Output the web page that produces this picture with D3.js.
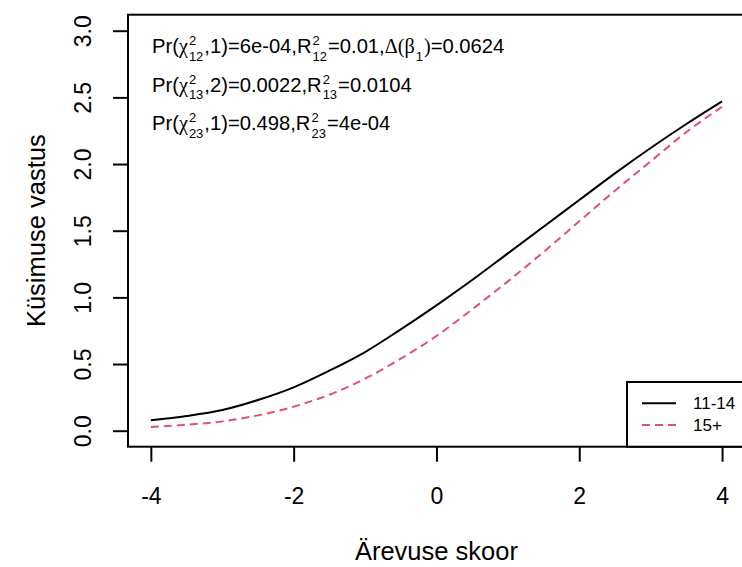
<!DOCTYPE html>
<html>
<head>
<meta charset="utf-8">
<script src="https://cdn.jsdelivr.net/npm/d3@7"></script>
<style>
  html, body { margin: 0; padding: 0; background: #ffffff; }
  svg { display: block; font-family: "Liberation Sans", Arial, Helvetica, sans-serif; }
</style>
</head>
<body>
<svg id="chart" width="742" height="567"></svg>
<script>
// ---- data ----
const xValues = [-4, -3.5, -3, -2.5, -2, -1.5, -1, -0.5, 0, 0.5, 1, 1.5, 2, 2.5, 3, 3.5, 4];
const group1Values = [0.078, 0.11, 0.155, 0.23, 0.325, 0.45, 0.59, 0.76, 0.94, 1.13, 1.33, 1.53, 1.73, 1.93, 2.12, 2.30, 2.47];
const group2Values = [0.028, 0.045, 0.07, 0.115, 0.18, 0.27, 0.39, 0.54, 0.71, 0.91, 1.12, 1.34, 1.57, 1.80, 2.02, 2.24, 2.43];
const seriesNames = ["11-14", "15+"];
const xTicks = [-4, -2, 0, 2, 4];
const yTicks = [0, 0.5, 1, 1.5, 2, 2.5, 3];
const xTickLabels = ["-4", "-2", "0", "2", "4"];
const yTickLabels = ["0.0", "0.5", "1.0", "1.5", "2.0", "2.5", "3.0"];
const xLabel = "Ärevuse skoor";
const yLabel = "Küsimuse vastus";
// annotation lines: segments [kind, text, subscript]
const annotationLines = [
  [["n", "Pr("], ["g", "χ"], ["ss", "2", "12"], ["n", ",1)=6e-04,R"], ["ss", "2", "12"], ["n", "=0.01,"], ["g", "Δ(β"], ["sub", "1"], ["g", ")"], ["n", "=0.0624"]],
  [["n", "Pr("], ["g", "χ"], ["ss", "2", "13"], ["n", ",2)=0.0022,R"], ["ss", "2", "13"], ["n", "=0.0104"]],
  [["n", "Pr("], ["g", "χ"], ["ss", "2", "23"], ["n", ",1)=0.498,R"], ["ss", "2", "23"], ["n", "=4e-04"]]
];

const colors = ["#000000", "#DF536B"];
const dashes = [null, "8,5"];

const svg = d3.select("#chart");

// R-style 4% axis extension
const xDom = [-4, 4], yDom = [0, 3];
const xPad = (xDom[1] - xDom[0]) * 0.04, yPad = (yDom[1] - yDom[0]) * 0.04;
const plotLeft = 128, plotRight = 744.9, plotTop = 14.7, plotBottom = 446.7;
const x = d3.scaleLinear().domain([xDom[0] - xPad, xDom[1] + xPad]).range([plotLeft, plotRight]);
const y = d3.scaleLinear().domain([yDom[0] - yPad, yDom[1] + yPad]).range([plotBottom, plotTop]);

const fontTick = 23;
const fontTitle = 25.5;

// axes
const xAxis = svg.append("g").attr("transform", `translate(0,${plotBottom})`)
  .call(d3.axisBottom(x).tickValues(xTicks).tickSize(15).tickFormat((d, i) => xTickLabels[i]));
xAxis.attr("font-size", null).attr("font-family", null);
xAxis.select(".domain").remove();
xAxis.selectAll(".tick line").attr("stroke", "#000").attr("stroke-width", 2);
xAxis.selectAll(".tick text").style("font-size", fontTick + "px").attr("fill", "#000")
  .attr("y", 57).attr("dy", null);

const yAxis = svg.append("g").attr("transform", `translate(${plotLeft},0)`)
  .call(d3.axisLeft(y).tickValues(yTicks).tickSize(15).tickFormat((d, i) => yTickLabels[i]));
yAxis.attr("font-size", null).attr("font-family", null);
yAxis.select(".domain").remove();
yAxis.selectAll(".tick line").attr("stroke", "#000").attr("stroke-width", 2);
yAxis.selectAll(".tick text").style("font-size", fontTick + "px").attr("fill", "#000")
  .attr("x", null).attr("dy", null)
  .attr("text-anchor", "middle")
  .attr("transform", "translate(-37,0) rotate(-90)");

// plot box
svg.append("rect")
  .attr("x", plotLeft).attr("y", plotTop)
  .attr("width", plotRight - plotLeft).attr("height", plotBottom - plotTop)
  .attr("fill", "none").attr("stroke", "#000").attr("stroke-width", 2);

// axis titles
svg.append("text").attr("x", (plotLeft + plotRight) / 2).attr("y", 560)
  .attr("text-anchor", "middle").style("font-size", fontTitle + "px").text(xLabel);
svg.append("text").attr("transform", `translate(45,${(plotTop + plotBottom) / 2}) rotate(-90)`)
  .attr("text-anchor", "middle").style("font-size", fontTitle + "px").text(yLabel);

// curves
const seriesList = [group1Values, group2Values];
const line = d3.line().x((d, i) => x(xValues[i])).y(d => y(d)).curve(d3.curveCatmullRom.alpha(0.5));
svg.append("clipPath").attr("id", "clip").append("rect")
  .attr("x", plotLeft).attr("y", plotTop).attr("width", plotRight - plotLeft).attr("height", plotBottom - plotTop);
seriesList.forEach((vals, k) => {
  svg.append("path").datum(vals)
    .attr("d", line)
    .attr("fill", "none")
    .attr("stroke", colors[k])
    .attr("stroke-width", 2)
    .attr("stroke-dasharray", dashes[k])
    .attr("clip-path", "url(#clip)");
});

// annotations (plotmath-like)
const annFont = 20.2;
const scriptFont = 13;
const annX = 152, annY0 = 53.3, annStep = 38.5;
const g = svg.append("g");
function measure(sel) { return sel.node().getComputedTextLength(); }
annotationLines.forEach((segs, li) => {
  let cx = annX;
  const by = annY0 + li * annStep;
  segs.forEach(seg => {
    const kind = seg[0];
    if (kind === "n" || kind === "g") {
      const t = g.append("text").attr("x", cx).attr("y", by).style("font-size", annFont + "px").text(seg[1]);
      if (kind === "g") t.attr("font-family", "Liberation Serif, DejaVu Serif, serif");
      cx += measure(t);
    } else if (kind === "ss") {
      const sup = g.append("text").attr("x", cx + 1).attr("y", by - 8).style("font-size", scriptFont + "px").text(seg[1]);
      const sub = g.append("text").attr("x", cx + 1).attr("y", by + 7.5).style("font-size", scriptFont + "px").text(seg[2]);
      cx += Math.max(measure(sup), measure(sub)) + 2;
    } else if (kind === "sub") {
      const sub = g.append("text").attr("x", cx + 1).attr("y", by + 7.5).style("font-size", scriptFont + "px").text(seg[1]);
      cx += measure(sub) + 2;
    }
  });
});

// legend (bottom-right inside plot)
const legLeft = 627, legTop = 382;
svg.append("rect").attr("x", legLeft).attr("y", legTop)
  .attr("width", plotRight - legLeft).attr("height", plotBottom - legTop)
  .attr("fill", "#fff").attr("stroke", "#000").attr("stroke-width", 2);
seriesNames.forEach((name, k) => {
  const ly = 403.3 + k * 21.7;
  svg.append("line").attr("x1", 642).attr("x2", 676).attr("y1", ly).attr("y2", ly)
    .attr("stroke", colors[k]).attr("stroke-width", 2).attr("stroke-dasharray", dashes[k]);
  svg.append("text").attr("x", 693).attr("y", ly + 6).style("font-size", "17px").text(name);
});
</script>
</body>
</html>
